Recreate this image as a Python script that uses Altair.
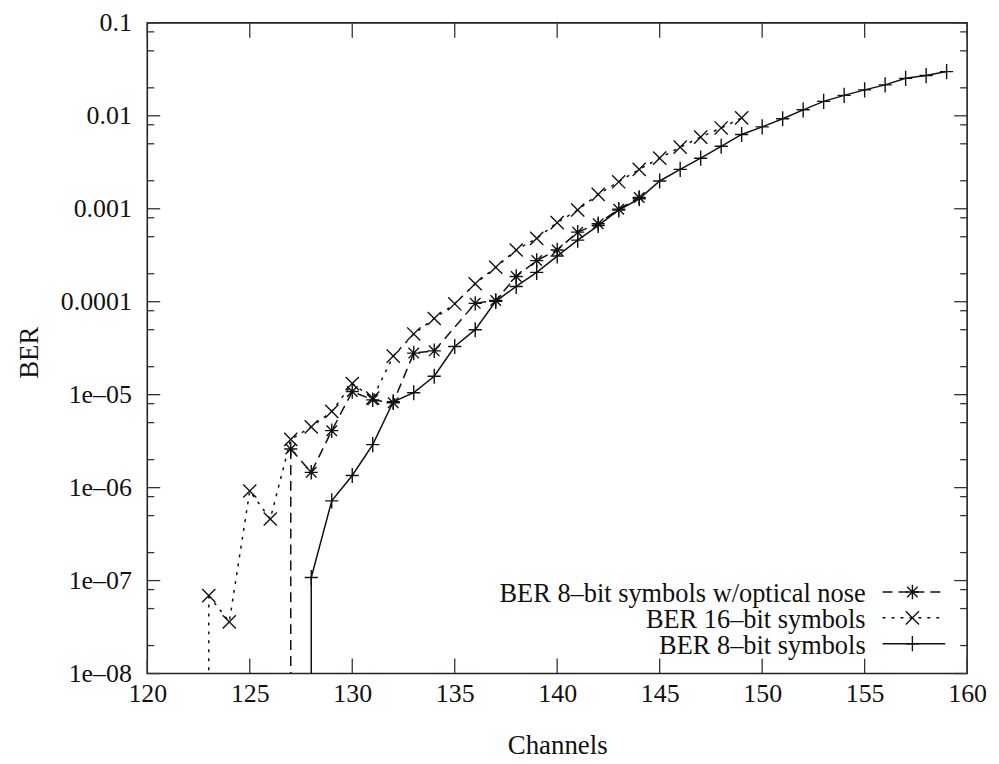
import json
import altair as alt
import pandas as pd

# ---------------- data ----------------
x16 = list(range(123, 150))
ber16 = [6.9e-8, 3.6e-8, 9.2e-7, 4.6e-7, 3.3e-6, 4.5e-6, 6.6e-6, 1.32e-5, 9.2e-6, 2.6e-5,
         4.5e-5, 6.6e-5, 9.5e-5, 1.56e-4, 2.35e-4, 3.6e-4, 4.8e-4, 7.1e-4, 9.7e-4, 1.43e-3,
         1.95e-3, 2.65e-3, 3.5e-3, 4.6e-3, 5.9e-3, 7.4e-3, 9.5e-3]

xopt = [127, 128, 129, 130, 131, 132, 133, 134, 136, 137, 138, 139, 140, 141, 142, 143, 144]
beropt = [2.6e-6, 1.46e-6, 4.1e-6, 1.08e-5, 8.8e-6, 8.2e-6, 2.8e-5, 2.96e-5, 9.6e-5, 1.03e-4,
          1.87e-4, 2.77e-4, 3.6e-4, 5.6e-4, 6.9e-4, 9.9e-4, 1.32e-3]

x8 = list(range(128, 160))
ber8 = [1.08e-7, 7.2e-7, 1.35e-6, 2.9e-6, 8.4e-6, 1.05e-5, 1.58e-5, 3.3e-5, 5.0e-5, 1.01e-4,
        1.46e-4, 2.07e-4, 3.1e-4, 4.6e-4, 6.6e-4, 9.7e-4, 1.28e-3, 1.99e-3, 2.65e-3, 3.5e-3,
        4.7e-3, 6.3e-3, 7.6e-3, 9.3e-3, 1.16e-2, 1.43e-2, 1.66e-2, 1.9e-2, 2.15e-2, 2.53e-2,
        2.71e-2, 2.99e-2]

legend_labels = ["BER 8\u2013bit symbols w/optical nose", "BER 16\u2013bit symbols", "BER 8\u2013bit symbols"]

x_ticks = [120, 125, 130, 135, 140, 145, 150, 155, 160]
y_ticks = [1e-8, 1e-7, 1e-6, 1e-5, 1e-4, 1e-3, 1e-2, 1e-1]
y_tick_labels = ["1e\u201308", "1e\u201307", "1e\u201306", "1e\u201305", "0.0001", "0.001", "0.01", "0.1"]
y_minor = [m * 10.0 ** e for e in range(-8, -1) for m in (2, 5, 8)]

# ---------------- style / layout ----------------
W, H = 824, 654
FONT = "Liberation Serif"
INK = "#111111"
LW = 1.5
DASH = [10, 6]
DOT = [3, 6]
MS = 175

P_PLUS = "M-1,0L1,0M0,-1.15L0,1.15"
P_X = "M-1,-1L1,1M-1,1L1,-1"
P_STAR = "M-1,0L1,0M0,-1.1L0,1.1M-0.8,-0.8L0.8,0.8M-0.8,0.8L0.8,-0.8"

xs = alt.Scale(domain=[120, 160], nice=False, zero=False)
ys = alt.Scale(type="log", domain=[1e-8, 0.1], nice=False)

label_expr = json.dumps(y_tick_labels) + "[round(log(datum.value)/LN10)+8]"

xaxis = alt.Axis(values=x_ticks, format="d", title="Channels", ticks=False, tickSize=0,
                 domain=False, grid=False, labelFont=FONT, labelFontSize=26, labelColor=INK,
                 labelPadding=7, labelFlush=False, labelOverlap=False,
                 titleFont=FONT, titleFontSize=27, titleFontWeight="normal", titleColor=INK,
                 titleBaseline="alphabetic", titleY=80)
yaxis = alt.Axis(values=y_ticks, labelExpr=label_expr, title="BER", ticks=False, tickSize=0,
                 domain=False, grid=False, labelFont=FONT, labelFontSize=26, labelColor=INK,
                 labelPadding=16, labelFlush=False, labelOverlap=False,
                 titleFont=FONT, titleFontSize=27, titleFontWeight="normal", titleColor=INK,
                 titleAngle=270, titleAlign="center", titleBaseline="middle",
                 titleX=-118, titleY=331)


def X(f):
    return alt.X(f"{f}:Q", scale=xs, axis=xaxis)


def Y(f):
    return alt.Y(f"{f}:Q", scale=ys, axis=yaxis)


d16 = pd.DataFrame({"x": x16, "ber": ber16})
dopt = pd.DataFrame({"x": xopt, "ber": beropt})
d8 = pd.DataFrame({"x": x8, "ber": ber8})

layers = []


def series(df, dash, path, size):
    ld = {} if dash is None else {"strokeDash": dash}
    line = alt.Chart(df).mark_line(color=INK, strokeWidth=LW, **ld).encode(x=X("x"), y=Y("ber"))
    drop = alt.Chart(df.iloc[[0]]).mark_rule(color=INK, strokeWidth=LW, **ld).encode(
        x=X("x"), y=Y("ber"), y2=alt.value(H))
    pts = alt.Chart(df).mark_point(shape=path, filled=False, size=size, color=INK,
                                   strokeWidth=1.4, opacity=1).encode(x=X("x"), y=Y("ber"))
    return [drop, line, pts]


layers += series(d16, DOT, P_X, MS)
layers += series(dopt, DASH, P_STAR, MS)
layers += series(d8, None, P_PLUS, MS)

# inward ticks on all four sides
dxt = pd.DataFrame({"t": x_ticks})
dyt = pd.DataFrame({"t": y_ticks})
dym = pd.DataFrame({"t": y_minor})
tick = dict(color="#333333", strokeWidth=1.3)
layers += [
    alt.Chart(dxt).mark_rule(**tick).encode(x=X("t"), y=alt.value(H), y2=alt.value(H - 15)),
    alt.Chart(dxt).mark_rule(**tick).encode(x=X("t"), y=alt.value(0), y2=alt.value(15)),
    alt.Chart(dyt).mark_rule(**tick).encode(y=Y("t"), x=alt.value(0), x2=alt.value(13)),
    alt.Chart(dyt).mark_rule(**tick).encode(y=Y("t"), x=alt.value(W), x2=alt.value(W - 13)),
    alt.Chart(dym).mark_rule(**tick).encode(y=Y("t"), x=alt.value(0), x2=alt.value(7)),
    alt.Chart(dym).mark_rule(**tick).encode(y=Y("t"), x=alt.value(W), x2=alt.value(W - 7)),
]

# legend (inside plot, bottom right)
leg_rows = [(DASH, P_STAR, 572), (DOT, P_X, 598), (None, P_PLUS, 624)]
for lab, (dash, path, ly) in zip(legend_labels, leg_rows):
    dl = pd.DataFrame({"label": [lab]})
    ld = {} if dash is None else {"strokeDash": dash}
    layers.append(alt.Chart(dl).mark_text(align="right", baseline="alphabetic", font=FONT,
                                          fontSize=26.5, color=INK).encode(
        text="label:N", x=alt.value(722), y=alt.value(ly + 10)))
    layers.append(alt.Chart(dl).mark_rule(color=INK, strokeWidth=LW, **ld).encode(
        x=alt.value(739), x2=alt.value(802), y=alt.value(ly)))
    layers.append(alt.Chart(dl).mark_point(shape=path, filled=False, size=MS, color=INK,
                                           strokeWidth=1.4, opacity=1).encode(
        x=alt.value(769), y=alt.value(ly)))

chart = alt.layer(*layers).properties(
    width=W, height=H,
    autosize=alt.AutoSizeParams(type="none"),
    padding={"left": 140, "top": 13, "right": 24, "bottom": 90},
    background="white",
).configure_view(stroke="#222222", strokeWidth=1.6)

chart.save("out.html", embed_options={"renderer": "svg", "actions": False})
